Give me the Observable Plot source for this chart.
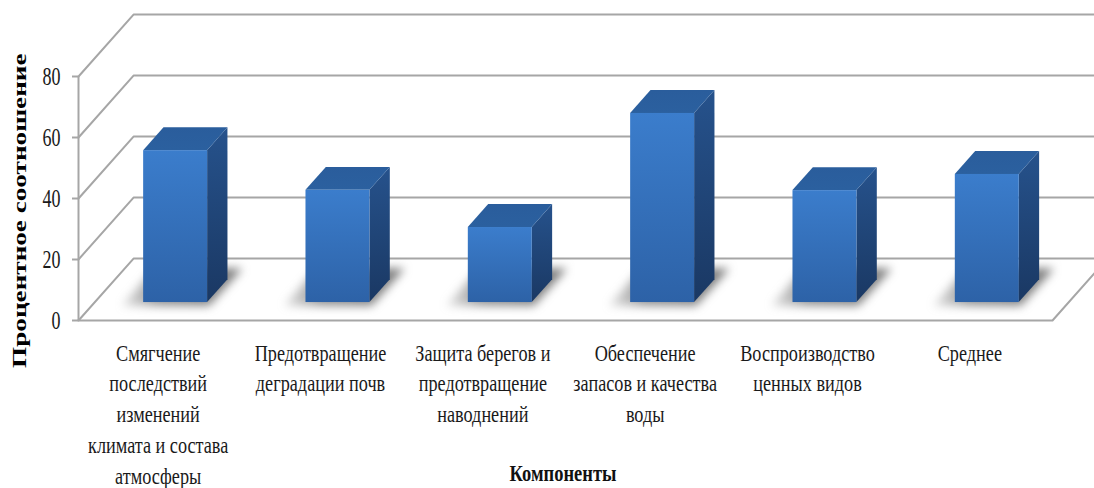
<!DOCTYPE html>
<html lang="ru">
<head>
<meta charset="utf-8">
<script src="https://cdn.jsdelivr.net/npm/d3@7"></script>
<script src="https://cdn.jsdelivr.net/npm/@observablehq/plot@0.6"></script>
<style>
  html, body { margin: 0; padding: 0; background: #fff; }
  svg { display: block; }
</style>
</head>
<body>
<div id="chart"></div>
<script>
// Values per component, percent
const values = [49.8, 36.8, 24.6, 62, 36.7, 42];
// Category labels, one inner list per wrapped line
const labelLines = [
  ["Смягчение", "последствий", "изменений", "климата и состава", "атмосферы"],
  ["Предотвращение", "деградации почв"],
  ["Защита берегов и", "предотвращение", "наводнений"],
  ["Обеспечение", "запасов и качества", "воды"],
  ["Воспроизводство", "ценных видов"],
  ["Среднее"]
];
const yTicks = [0, 20, 40, 60, 80];
const yTitle = "Процентное соотношение";
const xTitle = "Компоненты";

// Oblique projection: depth runs 0 (front) to 1 (back wall)
const skewX = 0.339;   // category units per full depth
const skewY = 20.3;    // value units per full depth
const px = (c, d) => c + skewX * d;
const py = (v, d) => v + skewY * d;

const barFront = 0.29, barBack = 0.66, barHalf = 0.197;

const bars = values.map((v, i) => ({v, c: i + 0.5}));

// Wall and floor lines for each tick
const gridPts = yTicks.flatMap(v => [
  {v, x: px(0, 0), y: py(v, 0)},
  {v, x: px(0, 1), y: py(v, 1)},
  {v, x: px(6, 1), y: py(v, 1)}
]);
const floorPts = [
  {x: px(0, 0), y: 0},
  {x: px(6, 0), y: 0},
  {x: px(6, 1), y: py(0, 1)}
];

// Floor shadows under each bar
const shadowPts = bars.flatMap(b => [0.23, 0.83].map(d => ({
  c: b.c, y: py(0, d), x1: px(b.c - 0.31, d), x2: px(b.c + 0.23, d)
})));
// Side faces
const sidePts = bars.flatMap(b => [barFront, barBack].map(d => ({
  c: b.c, x: px(b.c + barHalf, d), y1: py(0, d), y2: py(b.v, d)
})));
// Top faces
const topPts = bars.flatMap(b => [barFront, barBack].map(d => ({
  c: b.c, y: py(b.v, d), x1: px(b.c - barHalf, d), x2: px(b.c + barHalf, d)
})));
// Front faces
const frontRects = bars.map(b => ({
  x1: px(b.c - barHalf, barFront), x2: px(b.c + barHalf, barFront),
  y1: py(0, barFront), y2: py(b.v, barFront)
}));

// Wrapped label rows, grouped by line number
const labelRows = labelLines.flatMap((lines, i) =>
  lines.map((text, k) => ({text, k, c: i + 0.5})));

// Vertical gradients shared by the bar faces and shadows
function gradients() {
  const defs = d3.create("svg:defs");
  const add = (id, stops, horizontal) => {
    const g = defs.append("linearGradient").attr("id", id)
      .attr("x1", 0).attr("y1", 0)
      .attr("x2", horizontal ? 1 : 0).attr("y2", horizontal ? 0 : 1);
    stops.forEach(([o, c, a]) => g.append("stop").attr("offset", o)
      .attr("stop-color", c).attr("stop-opacity", a ?? 1));
  };
  add("faceFront", [[0, "#3b7dcc"], [1, "#2d62a7"]]);
  add("faceSide", [[0, "#26528c"], [1, "#1a3863"]]);
  add("faceTop", [[0, "#2a5d9c"], [1, "#2b609f"]]);
  add("floorShade", [[0, "#777777", 0.2], [0.3, "#666666", 0.7], [1, "#555555", 0.8]], true);
  return defs.node();
}

const gridColor = "#a6a6a6";
const serif = "'Liberation Serif', 'Times New Roman', serif";

const chart = Plot.plot({
  width: 1094,
  height: 488,
  marginLeft: 78,
  marginRight: 42,
  marginTop: 76,
  marginBottom: 168,
  style: {fontFamily: serif, background: "#fff", overflow: "hidden"},
  x: {domain: [0, 6], axis: null},
  y: {domain: [0, 80], axis: null},
  marks: [
    gradients,
    Plot.line(gridPts, {x: "x", y: "y", z: "v", stroke: gridColor, strokeWidth: 2}),
    Plot.line(floorPts, {x: "x", y: "y", stroke: gridColor, strokeWidth: 2}),
    Plot.ruleX([0], {y1: 0, y2: 80, stroke: gridColor, strokeWidth: 2}),
    Plot.axisY({
      ticks: yTicks, tickSize: 6, tickPadding: 12, stroke: gridColor, strokeWidth: 2,
      color: "#1a1a1a", fontSize: 25, label: null, className: "digits"
    }),
    Plot.areaX(shadowPts, {y: "y", x1: "x1", x2: "x2", z: "c", fill: "url(#floorShade)", imageFilter: "blur(5px)"}),
    Plot.areaY(sidePts, {x: "x", y1: "y1", y2: "y2", z: "c", fill: "url(#faceSide)"}),
    Plot.areaX(topPts, {y: "y", x1: "x1", x2: "x2", z: "c", fill: "url(#faceTop)"}),
    Plot.rect(frontRects, {x1: "x1", x2: "x2", y1: "y1", y2: "y2", fill: "url(#faceFront)"}),
    ...d3.range(5).map(k => Plot.text(labelRows.filter(r => r.k === k), {
      x: "c", y: () => 0, text: "text", dx: -1.5, dy: 32.5 + k * 30.8,
      fontSize: 23.5, fill: "#1a1a1a", className: "narrow"
    })),
    Plot.text([xTitle], {
      x: () => 3.0, y: () => 0, dx: -2.5, dy: 153, fontSize: 24, fontWeight: "bold",
      fill: "#111", className: "xtitle"
    }),
    Plot.text([yTitle], {
      frameAnchor: "left", textAnchor: "middle", dx: -59, y: () => 36, rotate: -90,
      fontSize: 19, fontWeight: "bold", fill: "#000", className: "widened"
    })
  ]
});

document.getElementById("chart").append(chart);

// The chart's lettering is set condensed, its y title stretched
function fit(selector, factor) {
  chart.querySelectorAll(selector).forEach(t => {
    t.setAttribute("textLength", t.getComputedTextLength() * factor);
    t.setAttribute("lengthAdjust", "spacingAndGlyphs");
  });
}
fit(".digits text, text.digits", 0.72);
fit(".narrow text, text.narrow", 0.775);
fit(".xtitle text, text.xtitle", 0.77);
fit(".widened text, text.widened", 1.43);
</script>
</body>
</html>
